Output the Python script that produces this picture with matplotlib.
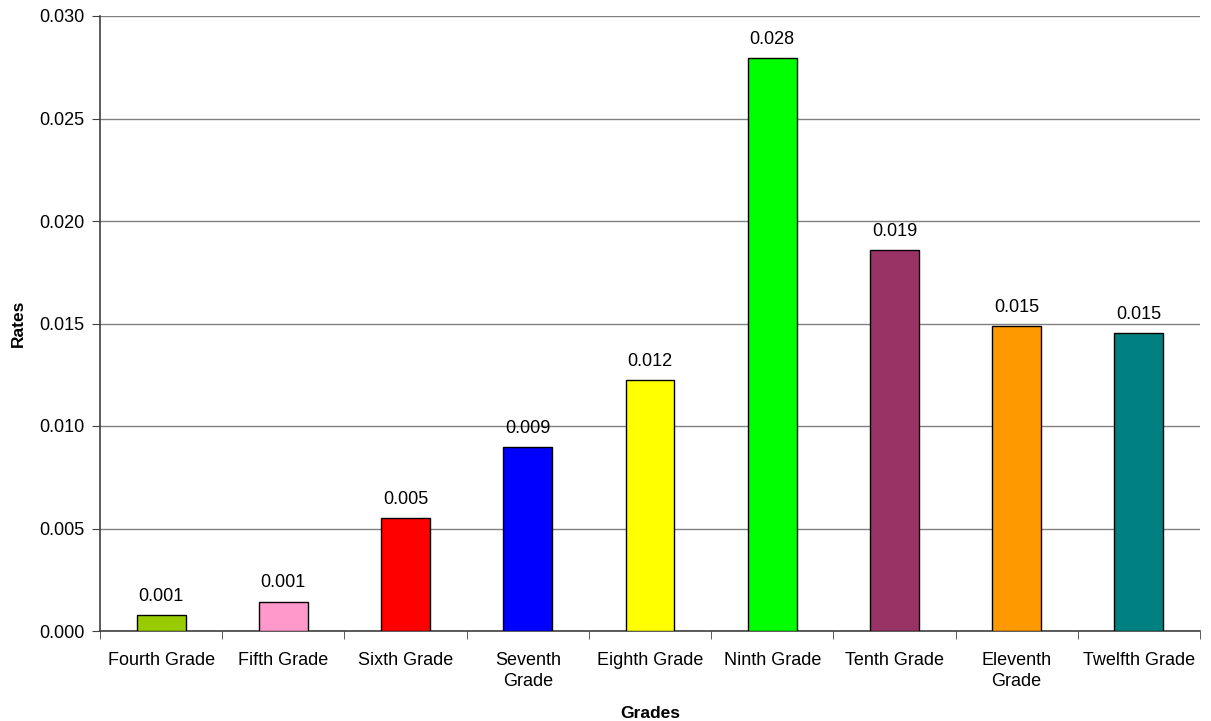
import numpy as np
import matplotlib.pyplot as plt

grades = ['Fourth Grade', 'Fifth Grade', 'Sixth Grade', 'Seventh\nGrade', 'Eighth Grade',
          'Ninth Grade', 'Tenth Grade', 'Eleventh\nGrade', 'Twelfth Grade']
rates = [0.00078, 0.00143, 0.0055, 0.00898, 0.01223, 0.02794, 0.01858, 0.01489, 0.01452]
colores = ['#99CC00', '#FF99CC', '#FF0000', '#0000FF', '#FFFF00',
           '#00FF00', '#993366', '#FF9900', '#008080']

plt.rcParams['font.family'] = ['Liberation Sans', 'DejaVu Sans']

fig = plt.figure(figsize=(12.11, 7.21), dpi=100)
ax = fig.add_axes([100 / 1211, 90 / 721, 1100 / 1211, 615 / 721])

x = np.arange(len(grades))
barras = ax.bar(x, rates, width=0.4, color=colores, edgecolor='black', linewidth=1, zorder=3)

for b, v in zip(barras, rates):
    ax.text(b.get_x() + b.get_width() / 2, v + 0.0005, f'{v:.3f}',
            ha='center', va='bottom', fontsize=13, color='black')

ax.set_xlim(-0.5, len(grades) - 0.5)
ax.set_ylim(0, 0.030)
ax.set_yticks(np.arange(0, 0.0301, 0.005))
ax.set_yticklabels([f'{t:.3f}' for t in np.arange(0, 0.0301, 0.005)], fontsize=13)
ax.yaxis.grid(True, color='#808080', linewidth=1, zorder=0)

ax.set_xticks(x)
ax.set_xticklabels(grades, fontsize=13, linespacing=1.35)
ax.tick_params(axis='x', length=0, pad=15)
ax.set_xticks(np.arange(-0.5, len(grades), 1), minor=True)
ax.tick_params(axis='x', which='minor', length=6, color='#404040', direction='out')
ax.tick_params(axis='y', length=6, color='#404040', direction='out', pad=5)

for lado in ['top', 'right']:
    ax.spines[lado].set_visible(False)
ax.spines['left'].set_color('#404040')
ax.spines['bottom'].set_color('#404040')
ax.spines['left'].set_linewidth(1.2)
ax.spines['bottom'].set_linewidth(1.2)

ax.set_xlabel('Grades', fontsize=12.5, fontweight='bold', labelpad=11)
ax.set_ylabel('Rates', fontsize=12.5, fontweight='bold', labelpad=10)

plt.savefig('out.png', dpi=100)
